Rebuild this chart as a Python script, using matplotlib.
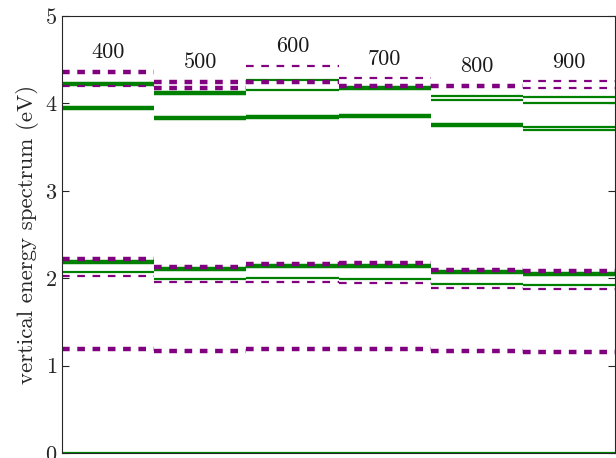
import numpy as np
import matplotlib
matplotlib.use('Agg')
import matplotlib.pyplot as plt

plt.rcParams['font.family'] = 'serif'
plt.rcParams['font.serif'] = ['cmr10', 'DejaVu Serif']
plt.rcParams['mathtext.fontset'] = 'cm'
plt.rcParams['axes.formatter.use_mathtext'] = True
plt.rcParams['lines.scale_dashes'] = False

# segment labels
labels = [400, 500, 600, 700, 800, 900]

# green (solid) levels in eV and their degeneracy, one list per segment
green_E = [
    [4.22, 3.95, 2.18, 2.07, 0.0],
    [4.115, 3.83, 2.105, 1.99, 0.0],
    [4.27, 4.155, 3.84, 2.135, 2.005, 0.0],
    [4.18, 3.855, 2.14, 1.99, 0.0],
    [4.09, 4.04, 3.75, 2.067, 1.93, 0.0],
    [4.077, 4.01, 3.73, 3.695, 2.05, 1.92, 0.0],
]
green_deg = [
    [2, 2, 2, 1, 1],
    [2, 2, 2, 1, 1],
    [1, 1, 2, 2, 1, 1],
    [2, 2, 2, 1, 1],
    [1, 1, 2, 2, 1, 1],
    [1, 1, 1, 1, 2, 1, 1],
]

# purple (dashed) levels in eV and their degeneracy
purple_E = [
    [4.36, 4.20, 2.22, 2.03, 1.19],
    [4.25, 4.18, 2.13, 1.953, 1.17],
    [4.43, 4.25, 2.16, 1.957, 1.19],
    [4.29, 4.20, 2.17, 1.95, 1.19],
    [4.20, 2.094, 1.888, 1.167],
    [4.256, 4.18, 2.08, 1.873, 1.156],
]
purple_deg = [
    [2, 1, 2, 1, 2],
    [2, 2, 2, 1, 2],
    [1, 2, 2, 1, 2],
    [1, 2, 2, 1, 2],
    [2, 2, 1, 2],
    [1, 1, 2, 1, 2],
]

fig = plt.figure(figsize=(6.16, 4.58), dpi=100)
ax = fig.add_axes([62/616, 1-453/458, 553/616, 437/458])

for i in range(len(labels)):
    for E, d in zip(green_E[i], green_deg[i]):
        ax.hlines(E, i, i+1, color='#008000', lw=1.6*d)
    for E, d in zip(purple_E[i], purple_deg[i]):
        ax.hlines(E, i, i+1, color='#800080', lw=1.6*d,
                  linestyles=(0, (5.5, 5.5)))
    top = max(max(green_E[i]), max(purple_E[i]))
    ax.text(i+0.5, top+0.22, str(labels[i]), ha='center', va='center',
            fontsize=16, color='#1a1a1a')

ax.set_xlim(0, 6)
ax.set_ylim(0, 5)
ax.set_yticks(np.arange(6))
ax.set_xticks([])
ax.tick_params(axis='y', direction='in', length=5, right=True,
               labelsize=16, colors='#262626')
for s in ax.spines.values():
    s.set_color('#262626')
    s.set_linewidth(0.8)
ax.set_ylabel('vertical energy spectrum (eV)', fontsize=16.5, color='#262626')

fig.savefig('out.png', dpi=100)
